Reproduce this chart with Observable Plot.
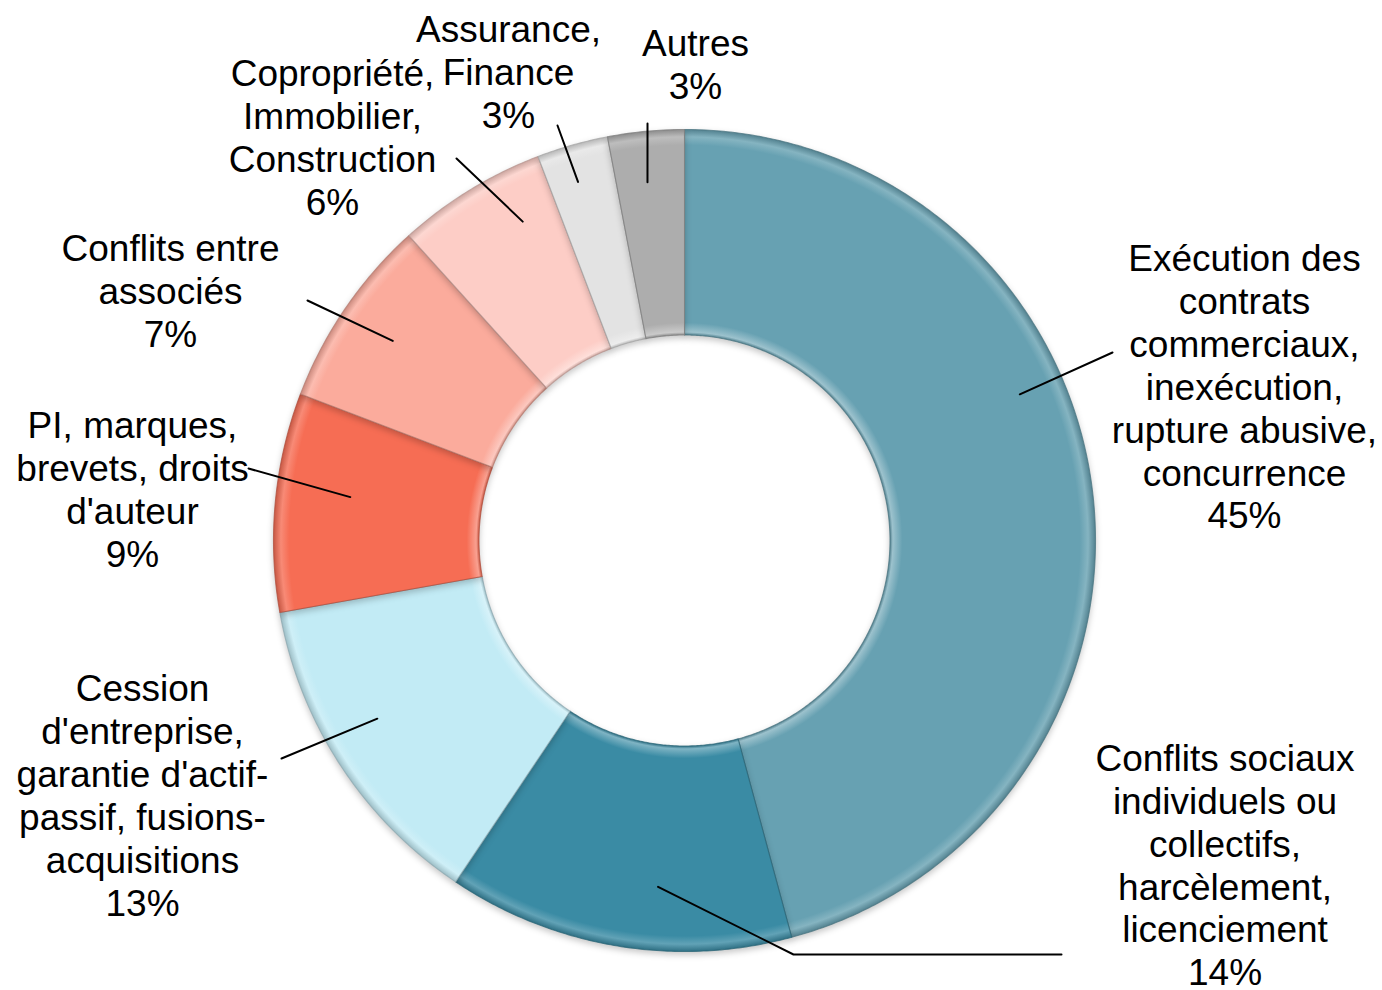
<!DOCTYPE html>
<html>
<head>
<meta charset="utf-8">
<script src="https://cdn.jsdelivr.net/npm/d3@7"></script>
<script src="https://cdn.jsdelivr.net/npm/@observablehq/plot@0.6"></script>
<style>
  html, body { margin: 0; padding: 0; background: #ffffff; }
  svg { display: block; }
</style>
</head>
<body>
<script>
// ---- Data ----
const categories = [
  "Exécution des\ncontrats\ncommerciaux,\ninexécution,\nrupture abusive,\nconcurrence",
  "Conflits sociaux\nindividuels ou\ncollectifs,\nharcèlement,\nlicenciement",
  "Cession\nd'entreprise,\ngarantie d'actif-\npassif, fusions-\nacquisitions",
  "PI, marques,\nbrevets, droits\nd'auteur",
  "Conflits entre\nassociés",
  "Copropriété,\nImmobilier,\nConstruction",
  "Assurance,\nFinance",
  "Autres"
];
const shares = [45.8, 13.6, 12.8, 8.6, 7.5, 5.9, 2.8, 3.0];
const pctLabels = ["45%", "14%", "13%", "9%", "7%", "6%", "3%", "3%"];
const colors = ["#67a1b2", "#3a8ba4", "#c2ebf5", "#f66d54", "#fbab9c", "#fdcdc6", "#e3e3e3", "#adadad"];

// ---- Layout (in units of the outer radius, centred on the donut, y up) ----
const W = 1382, H = 990, CX = 684, CY = 540, R = 411, INNER = 0.5;
const labelPos = [
  [1.3625, 0.3759], [1.3151, -0.7880], [-1.3187, -0.6192], [-1.3431, 0.1265],
  [-1.2506, 0.6083], [-0.8564, 0.9818], [-0.4282, 1.1411], [0.0268, 1.1594]
];
const leaderOuter = [
  [[1.0414, 0.4574]],
  [[0.2652, -1.0073], [0.9173, -1.0073]],
  [[-0.9805, -0.5304]],
  [[-1.0608, 0.1752]],
  [[-0.9173, 0.5839]],
  [[-0.5547, 0.9294]],
  [[-0.3090, 1.0097]],
  [[-0.0900, 1.0146]]
];
const leaderShiftDeg = [-16, -5, 3, 2, 0, 4.6, -0.7, -0.5];
const leaderR = [0.89, 0.845, 0.864, 0.82, 0.86, 0.87, 0.91, 0.876];

// ---- Geometry derived from the data ----
const arcs = d3.pie().sort(null).value(d => d)(shares);
const polar = (a, r) => [r * Math.sin(a), r * Math.cos(a)];

const slices = arcs.map((a, i) => {
  const n = Math.max(8, Math.ceil((a.endAngle - a.startAngle) / (Math.PI / 360)));
  const pts = [];
  for (let k = 0; k <= n; k++) pts.push(polar(a.startAngle + (a.endAngle - a.startAngle) * k / n, 1));
  for (let k = n; k >= 0; k--) pts.push(polar(a.startAngle + (a.endAngle - a.startAngle) * k / n, INNER));
  pts.push(pts[0]);
  return pts.map(([u, v]) => ({u, v}));
});

const leaderPts = [];
arcs.forEach((a, i) => {
  const mid = (a.startAngle + a.endAngle) / 2 + leaderShiftDeg[i] * Math.PI / 180;
  const [u0, v0] = polar(mid, leaderR[i]);
  leaderPts.push({u: u0, v: v0, id: i});
  leaderOuter[i].forEach(([u, v]) => leaderPts.push({u, v, id: i}));
});

const labels = categories.map((c, i) => ({
  u: labelPos[i][0], v: labelPos[i][1], text: c + "\n" + pctLabels[i]
}));

// ---- Plot ----
const chart = Plot.plot({
  width: W, height: H,
  margin: 0,
  x: {domain: [-CX / R, (W - CX) / R], range: [0, W], axis: null},
  y: {domain: [CY / R, (CY - H) / R], range: [0, H], axis: null},
  marks: [
    ...slices.map((pts, i) => Plot.line(pts, {
      x: "u", y: "v",
      fill: colors[i],
      stroke: d3.color(colors[i]).darker(0.9).formatHex(),
      strokeWidth: 1.1, strokeOpacity: 0.75,
      curve: "linear"
    })),
    Plot.line(leaderPts, {
      x: "u", y: "v", z: "id",
      stroke: "#000000", strokeWidth: 2, curve: "linear"
    }),
    Plot.text(labels, {
      x: "u", y: "v", text: "text",
      fontSize: 37, lineHeight: 1.16,
      fontFamily: "Liberation Sans, Arial, sans-serif",
      fill: "#000000", textAnchor: "middle", lineAnchor: "middle"
    })
  ]
});

// bevel-like gradients applied to the slice paths
const markGroups = Array.from(chart.children).filter(el => el.tagName.toLowerCase() === "g");
const sx = chart.scale("x"), sy = chart.scale("y");
const pcx = sx.apply(0), pcy = sy.apply(0), pr = sx.apply(1) - sx.apply(0);
const defs = d3.select(chart).insert("defs", ":first-child");
colors.forEach((c, i) => {
  const base = d3.color(c);
  const light = d3.interpolateRgb(c, "#ffffff")(0.35);
  const light2 = d3.interpolateRgb(c, "#ffffff")(0.2);
  const dark = base.darker(0.6).formatHex();
  const g = defs.append("radialGradient")
    .attr("id", `grad${i}`)
    .attr("gradientUnits", "userSpaceOnUse")
    .attr("cx", pcx).attr("cy", pcy).attr("r", pr);
  [[0.50, dark], [0.507, light], [0.53, c], [0.962, c], [0.982, light2], [1.0, dark]]
    .forEach(([o, col]) => g.append("stop").attr("offset", o).attr("stop-color", col));
});
markGroups.slice(0, colors.length).forEach((g, i) => {
  d3.select(g).selectAll("path").attr("fill", `url(#grad${i})`);
  d3.select(g).style("filter", "drop-shadow(0px 3px 3px rgba(0,0,0,0.22))");
});

document.body.appendChild(chart);
</script>
</body>
</html>
